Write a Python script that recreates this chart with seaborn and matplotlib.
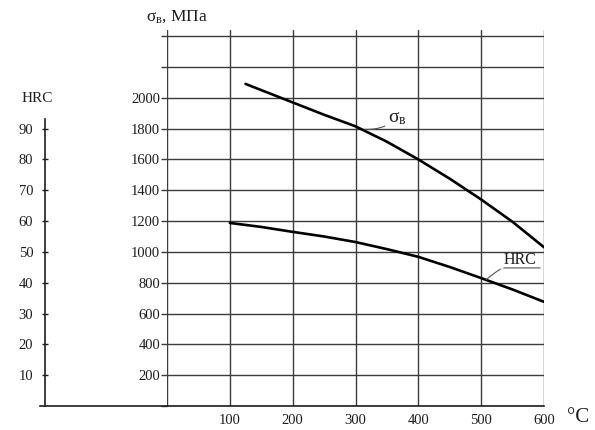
import pandas as pd
import matplotlib
matplotlib.use("Agg")
import matplotlib.pyplot as plt
import seaborn as sns

# temperature, deg C
temp_sigma = [125, 150, 200, 250, 300, 350, 400, 450, 500, 550, 600]
sigma_b = [2090, 2050, 1970, 1890, 1815, 1715, 1600, 1475, 1340, 1195, 1030]

temp_hrc = [100, 150, 200, 250, 300, 350, 400, 450, 500, 550, 600]
hrc = [59.4, 58.1, 56.5, 55.0, 53.2, 50.9, 48.4, 45.1, 41.5, 37.8, 33.8]

x_ticks = [0, 100, 200, 300, 400, 500, 600]
x_labels = ["", "100", "200", "300", "400", "500", "600"]
sigma_ticks = list(range(0, 2401, 200))
sigma_labels = ["" if v in (0, 2200, 2400) else str(v) for v in sigma_ticks]
hrc_ticks = [10, 20, 30, 40, 50, 60, 70, 80, 90]

sns.set_theme(style="white")
plt.rcParams["font.family"] = ["Liberation Serif", "DejaVu Serif"]
plt.rcParams["mathtext.fontset"] = "custom"
plt.rcParams["mathtext.rm"] = "Liberation Serif"
plt.rcParams["mathtext.it"] = "Liberation Serif:italic"

W, H = 595, 430
fig = plt.figure(figsize=(W / 100, H / 100), dpi=100)
fig.patch.set_facecolor("white")

def box(x0, y0, x1, y1):
    return [x0 / W, 1 - y1 / H, (x1 - x0) / W, (y1 - y0) / H]

ink = "#1e1e1e"
grid_c = "#3c3c3c"
sig_txt = r"$\mathrm{σ}_{\mathrm{в}}$"

# main grid axes (sigma vs temperature)
ax = fig.add_axes(box(167, 30, 544, 406))
ax.set_xlim(0, 600)
ax.set_ylim(0, 2440)
ax.set_xticks(x_ticks)
ax.set_xticklabels(x_labels)
ax.set_yticks(sigma_ticks)
ax.set_yticklabels(sigma_labels)
ax.grid(True, color=grid_c, lw=1.0)
for s in ["top", "right", "left"]:
    ax.spines[s].set_visible(False)
ax.spines["bottom"].set_color(ink)
ax.spines["bottom"].set_linewidth(1.2)
ax.tick_params(axis="y", direction="out", length=4, width=1.0, color=grid_c,
               pad=1, labelsize=10.5, labelcolor=ink, left=True)
ax.tick_params(axis="x", length=0, pad=6, labelsize=10.5, labelcolor=ink)
ax.set_facecolor("none")

df_s = pd.DataFrame({"t": temp_sigma, "sigma": sigma_b})
sns.lineplot(data=df_s, x="t", y="sigma", ax=ax, color="black", lw=1.9)
ax.set_xlabel("")
ax.set_ylabel("")

# HRC curve on a twin scale (10 HRC = 200 MPa)
ax_h = ax.twinx()
ax_h.set_ylim(0, 122)
ax_h.axis("off")
df_h = pd.DataFrame({"t": temp_hrc, "hrc": hrc})
sns.lineplot(data=df_h, x="t", y="hrc", ax=ax_h, color="black", lw=1.9)

# curve labels with leader lines
ax.annotate(sig_txt, xy=(315, 1795), xytext=(352, 1868),
            fontsize=14, color=ink, va="center", ha="left",
            arrowprops=dict(arrowstyle="-", color="#555555", lw=0.8,
                            connectionstyle="arc3,rad=-0.2",
                            shrinkA=0, shrinkB=0))
ax_h.annotate("HRC", xy=(508, 41.0), xytext=(536, 44.8),
              fontsize=11.5, color=ink, va="bottom", ha="left",
              arrowprops=dict(arrowstyle="-", color="#555555", lw=0.8,
                              connectionstyle="arc3,rad=0.1",
                              shrinkA=0, shrinkB=0))
ax_h.annotate("", xy=(536, 44.8), xytext=(594, 44.8),
              arrowprops=dict(arrowstyle="-", color="#555555", lw=0.8,
                              shrinkA=0, shrinkB=0))

# separate HRC scale on the left
ax_l = fig.add_axes(box(40, 30, 167, 406))
ax_l.set_facecolor("none")
ax_l.set_xlim(0, 1)
ax_l.set_ylim(0, 122)
ax_l.set_xticks([])
ax_l.set_yticks(hrc_ticks)
ax_l.set_yticklabels([str(v) for v in hrc_ticks])
for s in ["top", "right"]:
    ax_l.spines[s].set_visible(False)
ax_l.spines["left"].set_position(("axes", 5 / 127))
ax_l.spines["left"].set_bounds(0, 93)
ax_l.spines["left"].set_color(ink)
ax_l.spines["left"].set_linewidth(1.2)
ax_l.spines["bottom"].set_color(ink)
ax_l.spines["bottom"].set_linewidth(1.2)
ax_l.tick_params(axis="y", direction="inout", length=5, width=1.0, color=ink,
                 pad=6, labelsize=10.5, labelcolor=ink, left=True)

fig.text(37 / W, 1 - 98 / H, "HRC", fontsize=11, color=ink,
         ha="center", va="center")
fig.text(177 / W, 1 - 17 / H, sig_txt + ", МПа", fontsize=12.5,
         color=ink, ha="center", va="center")
fig.text(578 / W, 1 - 417 / H, "°C", fontsize=15, color=ink,
         ha="center", va="center")

fig.savefig("out.png", dpi=100, facecolor="white")
